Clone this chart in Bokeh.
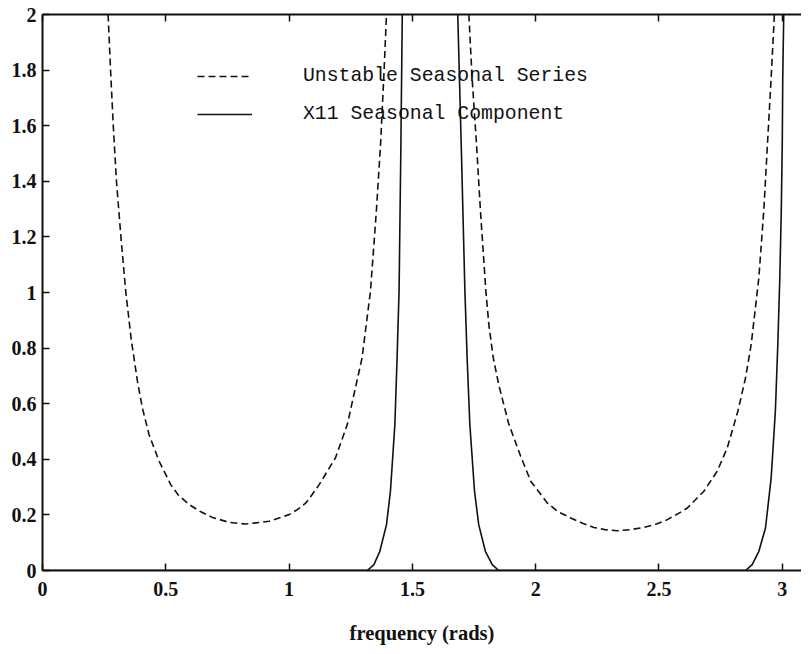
import numpy as np

import bokeh.plotting as bk
from bokeh.models import FixedTicker, LinearAxis, Legend, LegendItem
from bokeh.embed import file_html
from bokeh.resources import INLINE

#- curves, split where they leave the top of the frame
freq_unstable_1 = [0.266, 0.276, 0.287, 0.300, 0.318, 0.338, 0.360, 0.385, 0.405, 0.432,
                   0.473, 0.520, 0.550, 0.595, 0.640, 0.689, 0.757, 0.824, 0.919, 1.000,
                   1.035, 1.068, 1.095, 1.122, 1.188, 1.236, 1.296, 1.330, 1.354, 1.371,
                   1.384, 1.395]
gain_unstable_1 = [2.0, 1.8, 1.6, 1.40, 1.20, 1.00, 0.83, 0.681, 0.585, 0.489,
                   0.393, 0.309, 0.272, 0.237, 0.212, 0.191, 0.173, 0.167, 0.177, 0.201,
                   0.220, 0.243, 0.275, 0.309, 0.405, 0.525, 0.765, 1.005, 1.294, 1.534,
                   1.774, 2.0]

freq_unstable_2 = [1.729, 1.742, 1.760, 1.776, 1.798, 1.810, 1.828, 1.850, 1.890, 1.939,
                   1.980, 2.047, 2.090, 2.142, 2.190, 2.236, 2.280, 2.331, 2.385, 2.439,
                   2.490, 2.534, 2.575, 2.615, 2.682, 2.736, 2.777, 2.820, 2.851, 2.874,
                   2.905, 2.925, 2.940, 2.955, 2.968]
gain_unstable_2 = [2.0, 1.774, 1.534, 1.294, 1.005, 0.885, 0.765, 0.669, 0.530, 0.411,
                   0.321, 0.243, 0.212, 0.189, 0.170, 0.155, 0.147, 0.143, 0.147, 0.155,
                   0.167, 0.183, 0.203, 0.225, 0.285, 0.357, 0.441, 0.573, 0.693, 0.813,
                   1.053, 1.294, 1.534, 1.774, 2.0]

freq_x11_1 = [0.0, 1.317, 1.344, 1.368, 1.395, 1.411, 1.429, 1.438, 1.446, 1.453, 1.459]
gain_x11_1 = [0.0, 0.0, 0.021, 0.069, 0.165, 0.285, 0.525, 0.765, 1.005, 1.50, 2.0]

freq_x11_2 = [1.684, 1.699, 1.713, 1.722, 1.733, 1.752, 1.769, 1.796, 1.824, 1.850,
              2.851, 2.878, 2.905, 2.932, 2.955, 2.972, 2.982, 2.990, 2.996, 3.000,
              3.002, 3.006]
gain_x11_2 = [2.0, 1.50, 1.005, 0.765, 0.525, 0.285, 0.165, 0.069, 0.021, 0.0,
              0.0, 0.021, 0.069, 0.153, 0.333, 0.573, 0.813, 1.053, 1.294, 1.534,
              1.774, 2.0]

x_ticks = [0, 0.5, 1, 1.5, 2, 2.5, 3]
x_labels = ["0", "0.5", "1", "1.5", "2", "2.5", "3"]
y_ticks = [0, 0.2, 0.4, 0.6, 0.8, 1, 1.2, 1.4, 1.6, 1.8, 2]
y_labels = ["0", "0.2", "0.4", "0.6", "0.8", "1", "1.2", "1.4", "1.6", "1.8", "2"]

series_names = ["Unstable Seasonal Series", "X11 Seasonal Component"]

INK = "#111111"
SERIF = "Liberation Serif"

p = bk.figure(width=801, height=646, x_range=(0, 3.078), y_range=(0, 2),
              toolbar_location=None, tools="", output_backend="svg",
              min_border_left=42, min_border_right=0, min_border_top=14,
              background_fill_color="white", border_fill_color="white")
p.outline_line_color = None
p.grid.visible = False

r_unstable = p.multi_line(xs=[freq_unstable_1, freq_unstable_2],
                          ys=[gain_unstable_1, gain_unstable_2],
                          line_color=INK, line_width=1.6, line_dash="7 4",
                          line_join="round")
r_x11 = p.multi_line(xs=[freq_x11_1, freq_x11_2], ys=[gain_x11_1, gain_x11_2],
                     line_color=INK, line_width=1.6, line_join="round")

bottom_axis = p.below[0]
left_axis = p.left[0]

#- axes: ticks pointing into the frame, serif labels
bottom_axis.ticker = FixedTicker(ticks=x_ticks)
left_axis.ticker = FixedTicker(ticks=y_ticks)
bottom_axis.major_label_overrides = dict(zip(x_ticks, x_labels))
left_axis.major_label_overrides = dict(zip(y_ticks, y_labels))

#- top edge of the box: ticks only, no labels
top_axis = LinearAxis(ticker=FixedTicker(ticks=x_ticks), major_label_standoff=0,
                      major_label_overrides={t: "" for t in x_ticks})
p.add_layout(top_axis, "above")

for ax in [bottom_axis, left_axis, top_axis]:
    ax.axis_line_color = INK
    ax.axis_line_width = 2
    ax.major_tick_line_color = INK
    ax.major_tick_line_width = 1.5
    ax.major_tick_in = 7
    ax.major_tick_out = 0
    ax.minor_tick_line_color = None

for ax in [bottom_axis, left_axis]:
    ax.major_label_text_font = SERIF
    ax.major_label_text_font_size = "20px"
    ax.major_label_text_font_style = "bold"
    ax.major_label_text_color = INK

left_axis.major_label_standoff = 6
bottom_axis.major_label_standoff = 11

bottom_axis.axis_label = "frequency (rads)"
bottom_axis.axis_label_text_font = SERIF
bottom_axis.axis_label_text_font_size = "20.5px"
bottom_axis.axis_label_text_font_style = "bold"
bottom_axis.axis_label_text_color = INK
bottom_axis.axis_label_standoff = 23

#- legend inside the frame, no box
legend = Legend(items=[LegendItem(label=series_names[0], renderers=[r_unstable]),
                       LegendItem(label=series_names[1], renderers=[r_x11])],
                location=(155, 444), padding=0, margin=0, spacing=14,
                glyph_width=55, glyph_height=24, label_height=24, label_standoff=51,
                label_text_font="Liberation Mono", label_text_font_size="19.8px",
                label_text_color=INK, border_line_color=None,
                background_fill_alpha=0)
p.add_layout(legend)

open("out.html", "w").write(file_html(p, INLINE))
